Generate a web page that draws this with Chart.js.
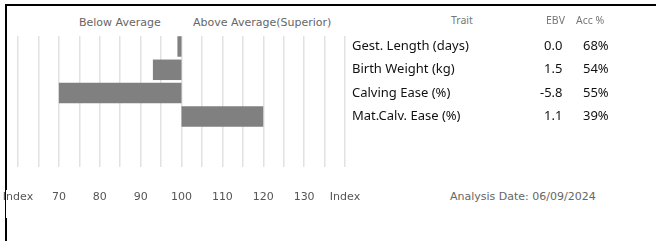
<!DOCTYPE html>
<html lang="en">
<head>
<meta charset="UTF-8">
<title>EBV Index Chart</title>
<script src="https://cdn.jsdelivr.net/npm/chart.js"></script>
<style>
  html, body { margin: 0; padding: 0; background: #fff; }
  #wrap { position: relative; width: 656px; height: 241px; overflow: hidden; }
  .line { position: absolute; background: #000; }
  #chartBox { position: absolute; left: 0; top: 0; width: 370px; height: 215px; }
  .lbl { position: absolute; font-family: "DejaVu Sans", sans-serif; font-size: 11px; color: #666; white-space: nowrap; }
  .tbl { position: absolute; font-family: "Noto Sans", sans-serif; white-space: nowrap; }
  .hdr { font-size: 10.5px; color: #777; }
  .cell { font-size: 13px; color: #111; }
</style>
</head>
<body>
<div id="wrap">
  <div class="line" style="left:5px; top:4px; width:651px; height:2px;"></div>
  <div class="line" style="left:5px; top:4px; width:2px; height:186px;"></div>
  <div class="line" style="left:5px; top:190px; width:1px; height:28px;"></div>
  <div class="line" style="left:5px; top:218px; width:2px; height:23px;"></div>

  <div class="lbl" style="left:79px; top:16px;">Below Average</div>
  <div class="lbl" style="left:193px; top:16px;">Above Average(Superior)</div>

  <div id="chartBox"><canvas id="indexChart"></canvas></div>

  <div id="table"></div>

  <div class="lbl" style="left:450px; top:190px;">Analysis Date: 06/09/2024</div>
</div>

<script>
// data
const traits = ['Gest. Length (days)', 'Birth Weight (kg)', 'Calving Ease (%)', 'Mat.Calv. Ease (%)'];
const ebv = ['0.0', '1.5', '-5.8', '1.1'];
const accuracy = ['68%', '54%', '55%', '39%'];
const indexBase = 100;
const indexValues = [99, 93, 70, 120];
const indexMin = 60;
const indexMax = 140;

// trait table on the right
const table = document.getElementById('table');
function addText(txt, cls, left, top) {
    const d = document.createElement('div');
    d.className = 'tbl ' + cls;
    d.style.left = left + 'px';
    d.style.top = top + 'px';
    d.textContent = txt;
    table.appendChild(d);
}
addText('Trait', 'hdr', 451, 13);
addText('EBV', 'hdr', 546, 13);
addText('Acc %', 'hdr', 576, 13);
traits.forEach((t, i) => {
    const top = 36 + i * 23.4;
    addText(t, 'cell', 352, top);
    addText(ebv[i], 'cell', ebv[i].startsWith('-') ? 540 : 544, top);
    addText(accuracy[i], 'cell', 583, top);
});

new Chart(document.getElementById('indexChart'), {
    type: 'bar',
    data: {
        datasets: [{
            data: indexValues.map((v, i) => ({ x: [indexBase, v], y: i })),
            backgroundColor: '#808080',
            borderWidth: 0,
            barPercentage: 0.88,
            categoryPercentage: 1
        }]
    },
    options: {
        indexAxis: 'y',
        responsive: true,
        maintainAspectRatio: false,
        animation: false,
        layout: { padding: { left: 18, right: 25, top: 36, bottom: 0 } },
        plugins: { legend: { display: false }, tooltip: { enabled: false } },
        scales: {
            x: {
                type: 'linear',
                min: indexMin,
                max: indexMax,
                position: 'bottom',
                border: { display: false },
                grid: { color: '#e2e2e2', lineWidth: 1.5, drawTicks: false },
                ticks: {
                    stepSize: 5,
                    autoSkip: false,
                    maxRotation: 0,
                    padding: 24,
                    color: '#555',
                    font: { family: 'DejaVu Sans', size: 11 },
                    callback: v => (v === indexMin || v === indexMax) ? 'Index' : (v % 10 === 0 ? v : '')
                },
                afterFit: s => {
                    s.height = 48;
                    s.paddingLeft = 0;
                    s.paddingRight = 0;
                }
            },
            y: {
                type: 'linear',
                reverse: true,
                offset: false,
                min: -0.45,
                max: 5.17,
                display: false
            }
        }
    }
});
</script>
</body>
</html>
